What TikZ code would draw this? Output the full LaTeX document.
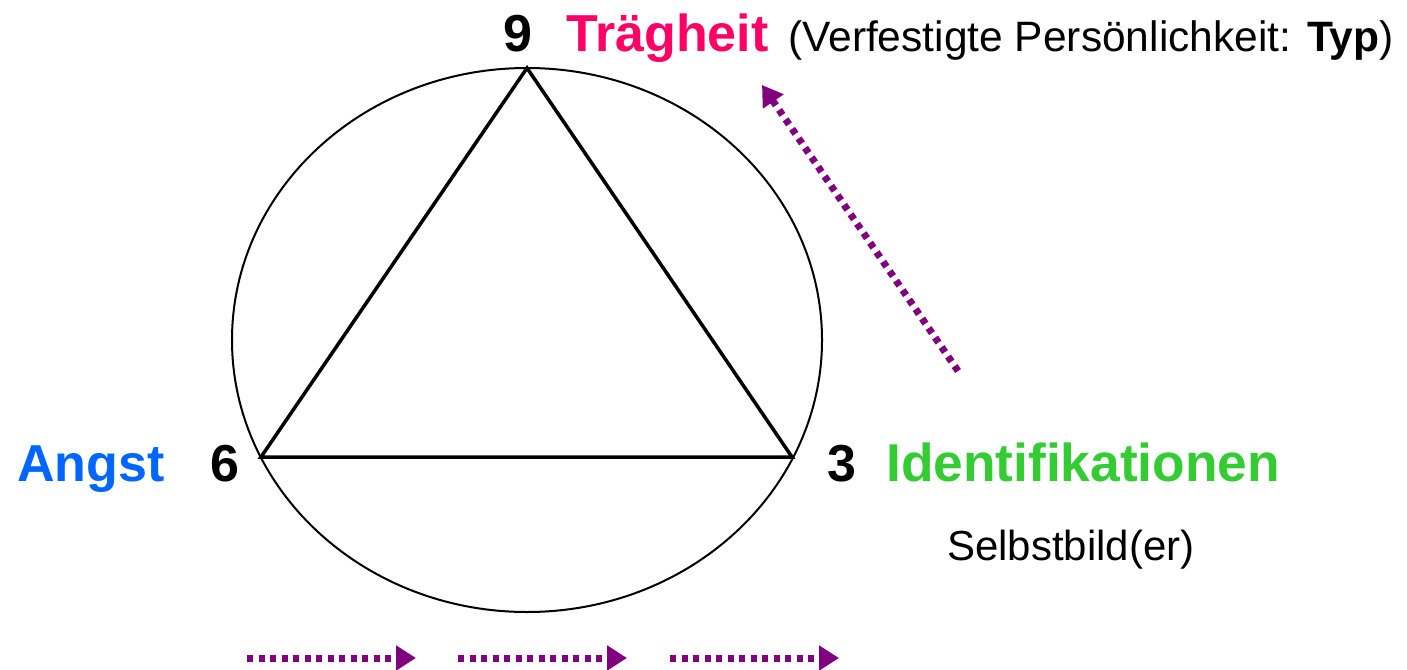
\documentclass[tikz,border=0pt]{standalone}
\usepackage{fontspec}
\setmainfont{Liberation Sans}
\usetikzlibrary{arrows.meta}
\definecolor{arrpurple}{HTML}{800080}
\definecolor{pinkred}{HTML}{FF0066}
\definecolor{angstblue}{HTML}{0066FF}
\definecolor{idgreen}{HTML}{33CC33}
\begin{document}
\begin{tikzpicture}[x=1pt,y=-1pt,
  bigbold/.style={font=\fontsize{52}{60}\selectfont\bfseries, inner sep=0pt, anchor=base west},
  smalltext/.style={font=\fontsize{42}{50}\selectfont, inner sep=0pt, anchor=base west},
  dotarrow/.style={arrpurple, line width=7pt, dash pattern=on 6pt off 5.5pt, -{Triangle[length=20pt,width=24pt]}}]
\useasboundingbox (0,0) rectangle (1407,669);
% circle
\draw[line width=2pt] (527,340) ellipse [x radius=295, y radius=272];
% triangle
\coordinate (top) at (527,68);
\coordinate (left) at (261,457);
\coordinate (right) at (792,457);
\draw[line width=3.5pt, line join=miter] (top) -- (right) -- (left) -- cycle;
% labels
\node[bigbold] (n9) at (503,52) {9};
\node[bigbold, text=pinkred] (traeg) at (566,52) {Trägheit};
\node[smalltext, font=\fontsize{42.5}{50}\selectfont] (verf) at (788,52) {(Verfestigte Persönlichkeit: \textbf{Typ})};
\node[bigbold, text=angstblue] (angst) at (17,481) {Angst};
\node[bigbold] (n6) at (210,481) {6};
\node[bigbold] (n3) at (827,481) {3};
\node[bigbold, text=idgreen, font=\fontsize{53.3}{60}\selectfont\bfseries] (ident) at (886,481) {Identifikationen};
\node[smalltext] (selbst) at (947,560) {Selbstbild(er)};
% arrows
\coordinate (d1) at (958,371);
\coordinate (d2) at (762,85);
\draw[dotarrow] (d1) -- (d2);
\coordinate (a1s) at (247,658);
\coordinate (a1e) at (416,658);
\coordinate (a2s) at (458,658);
\coordinate (a2e) at (627,658);
\coordinate (a3s) at (670,658);
\coordinate (a3e) at (839,658);
\draw[dotarrow] (a1s) -- (a1e);
\draw[dotarrow] (a2s) -- (a2e);
\draw[dotarrow] (a3s) -- (a3e);
\end{tikzpicture}
\end{document}
